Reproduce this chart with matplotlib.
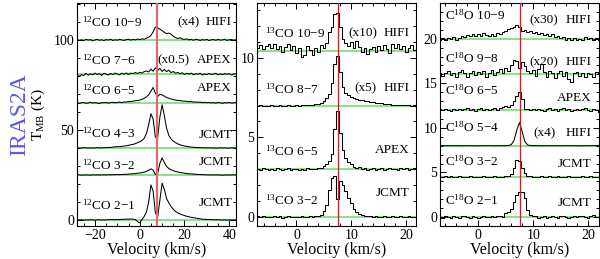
import numpy as np
import matplotlib
matplotlib.use("Agg")
import matplotlib.pyplot as plt
from matplotlib.ticker import MultipleLocator
import matplotlib.transforms as mtransforms

plt.rcParams['font.family'] = ['Liberation Serif', 'DejaVu Serif']
plt.rcParams['mathtext.fontset'] = 'custom'
plt.rcParams['mathtext.rm'] = 'Liberation Serif'
plt.rcParams['mathtext.it'] = 'Liberation Serif:italic'
plt.rcParams['mathtext.bf'] = 'Liberation Serif:bold'

V_SOURCE = 7.5

# ---------------- Panel 1 : 12CO (velocity grid -28 .. 43 km/s, 1 km/s) ----------------
v1_start, v1_step = -28.0, 1.0
co12_names = ["$^{12}$CO 2\u22121", "$^{12}$CO 3\u22122", "$^{12}$CO 4\u22123",
              "$^{12}$CO 6\u22125", "$^{12}$CO 7\u22126", "$^{12}$CO 10\u22129"]
co12_scale = ["", "", "", "", "(x0.5)", "(x4)"]
co12_tel = ["JCMT", "JCMT", "JCMT", "APEX", "APEX", "HIFI"]
co12_offsets = [0, 25, 40, 65, 81, 100]

co12_21 = [0.1, 0.0, 0.2, -0.1, 0.1, 0.0, 0.2, 0.1, -0.1, 0.1,
           0.2, 0.0, 0.1, 0.1, 0.2, 0.2, 0.3, 0.2, 0.3, 0.3,
           0.4, 0.4, 0.5, 0.5, 0.6, 0.5, 0.3, -0.8, -1.6, 0.2,
           2.0, 4.5, 10.0, 19.5, 16.0, 4.0, 1.5, 11.0, 20.5, 17.0,
           12.0, 9.5, 7.5, 6.0, 4.8, 4.0, 3.4, 2.9, 2.5, 2.1,
           1.8, 1.5, 1.3, 1.1, 0.9, 0.7, 0.5, 0.4, 0.3, 0.3,
           0.2, 0.2, 0.1, 0.2, 0.1, 0.0, 0.1, 0.0, 0.1, 0.0,
           0.1, 0.0]
co12_32 = [0.0, 0.1, -0.1, 0.0, 0.1, 0.0, -0.1, 0.1, 0.0, 0.1,
           0.0, 0.1, 0.1, 0.0, 0.2, 0.1, 0.2, 0.2, 0.3, 0.2,
           0.3, 0.4, 0.4, 0.5, 0.6, 0.7, 0.8, 1.0, 1.1, 1.3,
           1.6, 2.0, 2.6, 3.4, 2.8, 0.3, 0.8, 6.5, 9.5, 7.0,
           4.8, 3.6, 2.9, 2.4, 2.0, 1.7, 1.4, 1.2, 1.0, 0.8,
           0.7, 0.6, 0.5, 0.4, 0.3, 0.3, 0.2, 0.2, 0.1, 0.1,
           0.0, 0.1, 0.0, 0.1, 0.0, -0.1, 0.0, 0.1, 0.0, 0.0,
           0.1, 0.0]
co12_43 = [0.1, -0.1, 0.0, 0.2, 0.0, 0.1, -0.1, 0.1, 0.0, 0.2,
           0.1, 0.0, 0.2, 0.2, 0.3, 0.3, 0.5, 0.6, 0.8, 0.7,
           0.9, 1.1, 1.2, 1.5, 1.8, 2.0, 2.4, 2.9, 3.4, 4.2,
           5.4, 8.0, 13.0, 19.0, 16.0, 6.0, 5.5, 17.0, 24.0, 18.0,
           11.0, 7.0, 5.0, 3.8, 3.0, 2.3, 1.8, 1.4, 1.1, 0.9,
           0.7, 0.5, 0.4, 0.3, 0.2, 0.2, 0.1, 0.2, 0.0, 0.1,
           0.0, 0.1, -0.1, 0.0, 0.1, 0.0, 0.1, -0.1, 0.0, 0.1,
           0.0, 0.0]
co12_65 = [0.2, -0.3, 0.1, 0.3, -0.2, 0.0, 0.4, -0.1, 0.2, 0.0,
           -0.3, 0.2, 0.1, 0.3, -0.1, 0.2, 0.4, 0.1, 0.3, 0.5,
           0.2, 0.6, 0.5, 0.8, 0.7, 1.0, 1.2, 1.4, 1.6, 2.0,
           2.6, 3.4, 4.5, 6.5, 8.6, 5.5, 3.5, 4.8, 4.5, 3.8,
           3.0, 2.6, 2.2, 1.9, 1.6, 1.4, 1.3, 1.1, 1.0, 0.9,
           0.7, 0.8, 0.5, 0.6, 0.4, 0.5, 0.2, 0.4, 0.1, 0.3,
           0.0, 0.2, -0.1, 0.3, 0.1, -0.2, 0.2, 0.0, 0.3, -0.1,
           0.1, 0.2]
co12_76 = [-0.5, -1.2, -0.3, -0.8, 0.4, -0.6, 0.2, -0.4, 0.6, -0.2,
           0.3, -0.7, 0.5, 0.0, -0.5, 0.4, -0.3, 0.6, 0.1, -0.4,
           0.5, 0.0, 0.7, -0.2, 0.6, 0.3, 0.9, 0.4, 1.0, 0.6,
           1.4, 1.8, 1.2, 2.8, 1.6, 3.5, 2.0, 3.2, 1.5, 2.6,
           1.4, 2.2, 0.8, 1.5, 0.5, 1.0, 0.2, 0.8, -0.2, 0.5,
           0.0, 0.6, -0.4, 0.3, -0.1, 0.5, -0.5, 0.2, -0.3, 0.4,
           -0.2, 0.1, 0.5, -0.4, 0.2, -0.3, 0.4, -0.1, 0.3, -0.5,
           0.1, 0.2]
co12_109 = [0.2, -0.3, 0.1, -0.4, 0.3, -0.1, 0.2, -0.5, 0.0, 0.3,
            -0.2, 0.1, -0.4, 0.2, -0.1, 0.4, -0.3, 0.1, -0.2, 0.3,
            0.0, -0.3, 0.2, 0.4, -0.1, 0.3, 0.0, 0.5, 0.2, 0.6,
            0.4, 1.0, 1.5, 2.5, 4.5, 7.2, 6.8, 6.0, 5.2, 4.2,
            3.5, 3.8, 3.2, 2.0, 1.3, 0.8, 1.2, 0.5, 0.3, 0.6,
            0.0, 0.3, -0.2, 0.4, 0.1, -0.3, 0.2, -0.1, 0.3, -0.4,
            0.1, 0.2, -0.2, 0.3, -0.1, 0.0, 0.4, -0.3, 0.1, 0.2,
            -0.2, 0.1]
co12_spectra = [co12_21, co12_32, co12_43, co12_65, co12_76, co12_109]

# ---------------- Panels 2 & 3 : velocity grid -7 .. 22 km/s, 0.5 km/s ----------------
v2_start, v2_step = -7.0, 0.5

co13_names = ["$^{13}$CO 3\u22122", "$^{13}$CO 6\u22125", "$^{13}$CO 8\u22127", "$^{13}$CO 10\u22129"]
co13_scale = ["", "", "(x5)", "(x10)"]
co13_tel = ["JCMT", "APEX", "HIFI", "HIFI"]
co13_offsets = [0, 3, 7, 10.45]

co13_32 = [0.03, -0.02, 0.04, 0.00, -0.03, 0.02, 0.05, -0.01, 0.03, -0.04,
           0.01, 0.04, -0.02, 0.02, 0.00, -0.03, 0.03, 0.01, -0.02, 0.04,
           0.02, 0.05, 0.08, 0.15, 0.35, 0.75, 1.7, 2.45, 2.55, 1.1,
           2.25, 2.0, 1.6, 1.2, 0.85, 0.5, 0.3, 0.18, 0.1, 0.06,
           0.03, 0.05, 0.00, 0.03, -0.02, 0.02, 0.04, -0.01, 0.02, 0.05,
           -0.02, 0.01, 0.03, -0.03, 0.02, 0.04, 0.00, -0.02, 0.02]
co13_65 = [0.02, -0.04, 0.05, 0.01, -0.05, 0.03, -0.02, 0.06, 0.00, -0.06,
           0.02, 0.05, -0.03, 0.01, 0.04, -0.02, 0.03, -0.04, 0.05, 0.00,
           0.04, 0.02, 0.08, 0.10, 0.18, 0.3, 0.5, 0.95, 2.5, 3.65,
           2.3, 1.2, 0.7, 0.45, 0.3, 0.15, 0.08, 0.12, 0.02, 0.06,
           -0.02, 0.04, 0.08, -0.03, 0.02, 0.05, -0.04, 0.03, 0.06, 0.00,
           0.04, -0.03, 0.05, 0.01, 0.06, -0.02, 0.03, 0.05, 0.00]
co13_87 = [0.0, 0.01, 0.0, -0.01, 0.0, 0.01, 0.0, 0.0, 0.01, -0.01,
           0.0, 0.01, 0.0, 0.0, 0.01, 0.0, 0.01, 0.02, 0.03, 0.04,
           0.06, 0.08, 0.11, 0.16, 0.27, 0.45, 0.75, 1.4, 2.6, 3.1,
           2.1, 1.2, 0.82, 0.65, 0.55, 0.48, 0.42, 0.38, 0.34, 0.30,
           0.27, 0.24, 0.21, 0.18, 0.16, 0.14, 0.12, 0.10, 0.08, 0.06,
           0.05, 0.04, 0.03, 0.02, 0.02, 0.01, 0.0, 0.01, 0.0]
co13_109 = [0.15, 0.35, 0.1, 0.3, 0.45, 0.2, 0.4, 0.1, 0.3, -0.1,
            0.25, 0.4, 0.05, 0.3, -0.15, 0.2, -0.4, -0.25, 0.3, 0.05,
            -0.3, 0.2, -0.1, 0.35, 0.2, 0.5, 1.2, 1.5, 2.3, 2.4,
            1.5, 0.75, 0.5, 0.3, 0.55, 0.2, 0.6, 0.25, -0.1, 0.15,
            -0.2, 0.1, 0.25, -0.05, 0.3, 0.05, 0.35, 0.1, -0.15, 0.4,
            0.2, 0.45, 0.1, 0.3, -0.05, 0.2, 0.35, 0.05, 0.25]
co13_spectra = [co13_32, co13_65, co13_87, co13_109]

c18o_names = ["C$^{18}$O 2\u22121", "C$^{18}$O 3\u22122", "C$^{18}$O 5\u22124",
              "C$^{18}$O 6\u22125", "C$^{18}$O 9\u22128", "C$^{18}$O 10\u22129"]
c18o_scale = ["", "", "(x4)", "", "(x20)", "(x30)"]
c18o_tel = ["JCMT", "JCMT", "HIFI", "APEX", "HIFI", "HIFI"]
c18o_offsets = [0, 4.5, 8, 12, 16, 20]

c18o_21 = [0.05, -0.08, 0.1, 0.0, -0.05, 0.12, 0.02, -0.1, 0.08, 0.15,
           0.0, -0.06, 0.1, 0.04, -0.08, 0.06, 0.12, -0.04, 0.05, 0.1,
           -0.02, 0.08, 0.15, 0.05, 0.45, 0.6, 0.9, 1.7, 2.5, 2.85,
           2.85, 2.1, 0.8, 0.25, 0.08, 0.12, -0.05, 0.06, 0.1, -0.08,
           0.04, 0.12, 0.0, -0.06, 0.08, 0.14, 0.02, -0.1, 0.06, 0.1,
           -0.04, 0.08, 0.16, 0.03, -0.07, 0.1, 0.2, 0.05, 0.0]
c18o_32 = [0.03, -0.04, 0.05, 0.0, 0.06, -0.03, 0.02, 0.05, -0.05, 0.03,
           0.0, 0.06, -0.02, 0.04, -0.04, 0.02, 0.05, -0.03, 0.03, 0.0,
           0.06, -0.02, 0.04, 0.02, 0.06, 0.15, 0.35, 1.0, 1.9, 1.8,
           1.0, 0.4, 0.1, 0.05, -0.03, 0.04, 0.0, 0.05, -0.04, 0.03,
           0.06, -0.02, 0.02, 0.05, -0.05, 0.03, 0.0, 0.06, -0.03, 0.04,
           0.02, -0.04, 0.05, 0.01, -0.02, 0.06, 0.0, 0.04, -0.03]
c18o_54 = [0.0, 0.01, 0.0, -0.01, 0.0, 0.0, 0.01, 0.0, -0.01, 0.0,
           0.01, 0.0, 0.0, -0.01, 0.0, 0.01, 0.0, 0.0, 0.01, 0.0,
           -0.01, 0.0, 0.01, 0.0, 0.01, 0.03, 0.12, 0.6, 1.75, 2.6,
           1.55, 0.45, 0.08, 0.02, 0.0, 0.01, 0.0, -0.01, 0.0, 0.01,
           0.0, 0.0, 0.01, 0.0, -0.01, 0.0, 0.01, 0.0, 0.0, 0.01,
           0.0, -0.01, 0.0, 0.01, 0.0, 0.0, 0.01, 0.0, 0.0]
c18o_65 = [0.1, -0.05, 0.15, 0.05, -0.1, 0.12, 0.0, 0.15, -0.05, 0.08,
           0.18, 0.02, 0.12, -0.08, 0.1, 0.2, 0.05, 0.15, -0.05, 0.1,
           0.18, 0.05, 0.2, 0.3, 0.45, 0.35, 0.55, 1.0, 1.6, 2.0,
           1.2, 0.15, 0.1, -0.05, 0.12, 0.0, 0.15, 0.05, -0.1, 0.1,
           0.2, 0.0, 0.12, -0.08, 0.08, 0.18, 0.02, 0.12, -0.1, 0.05,
           0.15, -0.05, 0.1, 0.2, 0.0, -0.15, 0.1, 0.05, -0.2]
c18o_98 = [0.1, -0.2, 0.15, 0.35, -0.05, 0.2, -0.3, 0.3, 0.45, 0.1,
           -0.35, 0.2, 0.4, -0.1, 0.25, 0.05, 0.35, -0.25, 0.15, 0.45,
           -0.05, 0.3, 0.55, 0.2, 0.7, 0.4, 1.1, 1.6, 1.5, 0.7,
           1.4, 0.9, 0.4, 0.1, 0.5, -0.2, 0.6, 1.2, 0.3, -0.3,
           0.4, 0.1, -0.4, 0.2, 0.35, -0.15, 0.25, -0.5, -0.85, 0.1,
           0.3, -0.2, 0.15, -0.35, 0.2, 0.05, -0.25, 0.3, 0.0]
c18o_109 = [-0.1, 0.05, -0.2, 0.1, -0.05, 0.15, -0.15, 0.1, 0.3, 0.2,
            0.45, 0.25, 0.5, 0.3, 0.55, 0.35, 0.6, 0.4, 0.3, 0.55,
            0.35, 0.6, 0.5, 0.75, 0.9, 1.1, 1.2, 1.35, 1.5, 1.3,
            0.9, 1.0, 0.7, 0.85, 0.6, 0.75, 0.5, 0.65, 0.4, 0.55,
            0.3, 0.5, 0.2, 0.35, 0.05, 0.2, -0.15, 0.05, -0.1, 0.1,
            -0.2, 0.0, -0.1, 0.15, -0.05, 0.1, -0.15, 0.05, -0.1]
c18o_spectra = [c18o_21, c18o_32, c18o_54, c18o_65, c18o_98, c18o_109]
c18o_smooth = [False, False, True, False, False, False]

# ---------------- layout (positions in px of a 600x259 canvas) ----------------
W, H = 600, 259
fig = plt.figure(figsize=(6.0, 2.59), dpi=100)
ax_top, ax_bot = 3, 226
ax_w = 159
lefts = [77, 257, 440]
axs = [fig.add_axes([l / W, 1 - ax_bot / H, ax_w / W, (ax_bot - ax_top) / H]) for l in lefts]

GREEN = '#66dd66'
FS_LAB = 9.5
FS_TICK = 10


def style_axis(ax, xlim, ylim, xmaj, xmin, ymaj, ymin):
    ax.set_xlim(*xlim)
    ax.set_ylim(*ylim)
    ax.xaxis.set_major_locator(MultipleLocator(xmaj))
    ax.xaxis.set_minor_locator(MultipleLocator(xmin))
    ax.yaxis.set_major_locator(MultipleLocator(ymaj))
    ax.yaxis.set_minor_locator(MultipleLocator(ymin))
    ax.tick_params(which='both', direction='in', top=True, right=True,
                   labelsize=FS_TICK, width=0.7, pad=2)
    ax.tick_params(which='major', length=4)
    ax.tick_params(which='minor', length=2)
    for s in ax.spines.values():
        s.set_linewidth(0.8)
    ax.set_xlabel("Velocity (km/s)", fontsize=11.5, labelpad=0)


def draw_panel(ax, vstart, vstep, spectra, offsets, red_lw, red_col, steps, smooth=None):
    for k, (spec, off) in enumerate(zip(spectra, offsets)):
        v = vstart + vstep * np.arange(len(spec))
        y = np.asarray(spec) + off
        ax.axhline(off, color=GREEN, lw=1.1, zorder=1)
        ds = 'steps-mid' if steps and not (smooth and smooth[k]) else 'default'
        ax.plot(v, y, color='black', lw=0.75, drawstyle=ds, zorder=2)
    ax.axvline(V_SOURCE, color=red_col, lw=red_lw, zorder=3)


def put_labels(ax, names, scales, tels, left_x, left_y, scale_x, right_x, right_y):
    tr = mtransforms.blended_transform_factory(ax.transAxes, ax.transData)
    for n, s, t, ly, ry in zip(names, scales, tels, left_y, right_y):
        ax.text(left_x, ly, n, transform=tr, ha='left', va='center', fontsize=FS_LAB, zorder=4)
        ax.text(right_x, ry, t, transform=tr, ha='right', va='center', fontsize=FS_LAB, zorder=4)
        if s:
            ax.text(scale_x[s], ry, s, transform=tr, ha='center', va='center', fontsize=FS_LAB, zorder=4)


# Panel 1
ax = axs[0]
draw_panel(ax, v1_start, v1_step, co12_spectra, co12_offsets, 1.6, '#e06a6a', False)
style_axis(ax, (-28, 43), (-3.3, 120.5), 20, 5, 50, 10)
put_labels(ax, co12_names, co12_scale, co12_tel, 0.03,
           [8.3, 30.6, 48.3, 72.2, 88.9, 110.0],
           {"(x0.5)": 0.605, "(x4)": 0.70}, 0.975,
           [9.4, 32.2, 47.2, 73.3, 88.9, 110.0])
ax.set_ylabel("T$_{\\rm MB}$ (K)", fontsize=11, labelpad=5)

# Panel 2
ax = axs[1]
draw_panel(ax, v2_start, v2_step, co13_spectra, co13_offsets, 0.9, '#c82020', True)
style_axis(ax, (-7.2, 21.8), (-0.57, 13.45), 10, 2, 5, 1)
put_labels(ax, co13_names, co13_scale, co13_tel, 0.05,
           [1.07, 4.1, 8.0, 11.57],
           {"(x5)": 0.68, "(x10)": 0.667}, 0.962,
           [1.5, 4.2, 8.1, 11.57])

# Panel 3
ax = axs[2]
draw_panel(ax, v2_start, v2_step, c18o_spectra, c18o_offsets, 0.9, '#c82020', True, c18o_smooth)
style_axis(ax, (-7.0, 22.0), (-1.0, 24.0), 10, 2, 5, 1)
put_labels(ax, c18o_names, c18o_scale, c18o_tel, 0.03,
           [1.9, 6.2, 10.1, 14.2, 17.8, 22.6],
           {"(x4)": 0.66, "(x20)": 0.65, "(x30)": 0.65}, 0.955,
           [1.6, 6.0, 9.4, 13.4, 17.4, 22.1])

fig.text(20 / W, 1 - 115 / H, "IRAS2A", rotation=90, ha='center', va='center',
         fontsize=17, color='#5a5ae6')

fig.savefig("out.png", dpi=100)
